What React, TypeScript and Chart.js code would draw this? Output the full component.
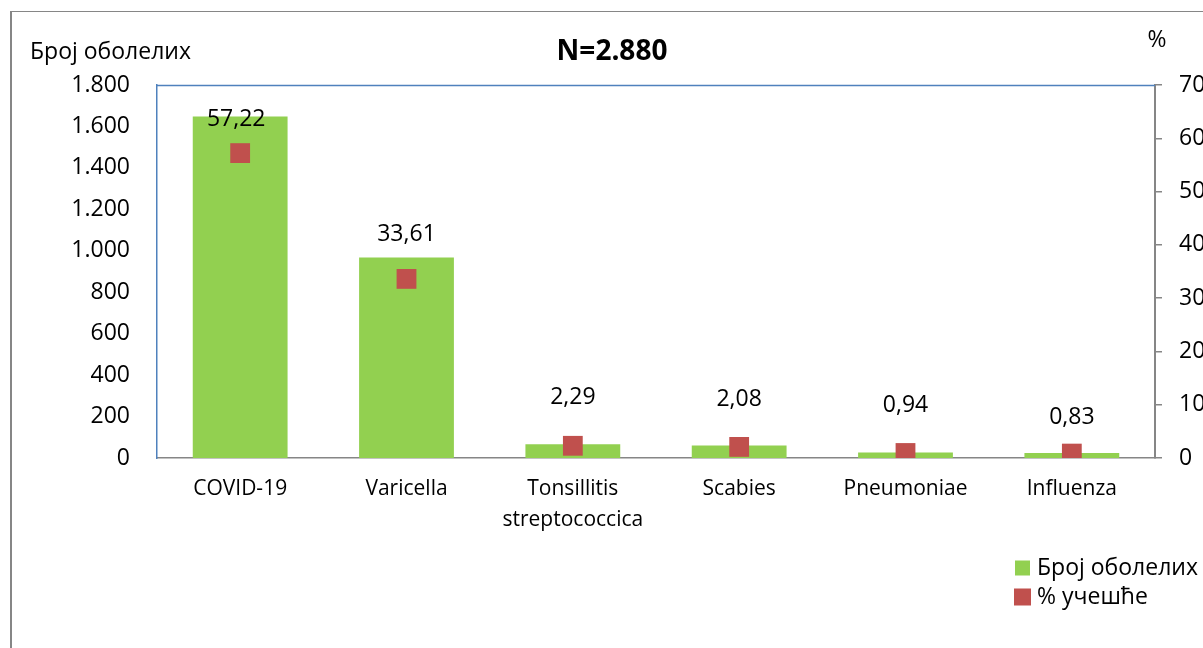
import React, { useEffect, useRef } from "react";
import { Chart, registerables } from "chart.js";

Chart.register(...registerables);

const categories: (string | string[])[] = [
  "COVID-19",
  "Varicella",
  ["Tonsillitis", "streptococcica"],
  "Scabies",
  "Pneumoniae",
  "Influenza",
];
const caseCounts = [1648, 968, 66, 60, 27, 24];
const percentShare = [57.22, 33.61, 2.29, 2.08, 0.94, 0.83];
const percentLabels = ["57,22", "33,61", "2,29", "2,08", "0,94", "0,83"];
const titleText = "N=2.880";
const leftAxisTitle = "Број оболелих";
const rightAxisTitle = "%";
const legendLabels = ["Број оболелих", "% учешће"];

// style: how far above each marker its label sits (px)
const labelLift = [34, 44, 48, 47, 48, 36];
const labelShift = [-4, 0, 0, 0, 0, 0];

const GREEN = "#92D050";
const RED = "#C0504D";
const BLUE = "#4F81BD";
const GRAY = "#868686";
const FONT = "'Open Sans', sans-serif";

const W = 1250;
const H = 648;
const PLOT = { left: 157, right: 1155, top: 85, bottom: 458 };

const fmtThousands = (v: number) =>
  String(v).replace(/\B(?=(\d{3})+(?!\d))/g, ".");

const decor = {
  id: "decor",
  beforeDraw(chart: any) {
    const ctx = chart.ctx;
    ctx.save();
    ctx.fillStyle = "#fff";
    ctx.fillRect(0, 0, chart.width, chart.height);
    ctx.strokeStyle = GRAY;
    ctx.lineWidth = 1;
    ctx.beginPath();
    ctx.moveTo(10, 11.5);
    ctx.lineTo(chart.width, 11.5);
    ctx.stroke();
    ctx.lineWidth = 2;
    ctx.beginPath();
    ctx.moveTo(11, 11);
    ctx.lineTo(11, chart.height);
    ctx.stroke();
    ctx.restore();
  },
  afterDraw(chart: any) {
    const ctx = chart.ctx;
    const ca = chart.chartArea;
    ctx.save();
    // top border of plot area
    ctx.strokeStyle = BLUE;
    ctx.lineWidth = 1.5;
    ctx.beginPath();
    ctx.moveTo(ca.left, ca.top + 0.5);
    ctx.lineTo(ca.right, ca.top + 0.5);
    ctx.stroke();

    ctx.fillStyle = "#000";
    ctx.textBaseline = "middle";
    // title
    ctx.font = `bold 28px ${FONT}`;
    ctx.textAlign = "center";
    ctx.fillText(titleText, 612, 52);
    // axis titles
    ctx.font = `23px ${FONT}`;
    ctx.textAlign = "left";
    ctx.fillText(leftAxisTitle, 30, 52);
    ctx.textAlign = "center";
    ctx.fillText(rightAxisTitle, 1157, 40);

    // data labels
    const meta = chart.getDatasetMeta(1);
    ctx.font = `23px ${FONT}`;
    ctx.textAlign = "center";
    meta.data.forEach((pt: any, i: number) => {
      ctx.fillText(percentLabels[i], pt.x + labelShift[i], pt.y - labelLift[i]);
    });

    // legend
    const colors = [GREEN, RED];
    ctx.textAlign = "left";
    legendLabels.forEach((txt, i) => {
      const cy = 568 + i * 29;
      ctx.fillStyle = colors[i];
      const s = i === 0 ? 15 : 17;
      ctx.fillRect(1015 - (i === 0 ? 0 : 1), cy - s / 2, s, s);
      ctx.fillStyle = "#000";
      ctx.fillText(txt, 1037, cy);
    });
    ctx.restore();
  },
};

export default function App() {
  const ref = useRef<HTMLCanvasElement | null>(null);

  useEffect(() => {
    if (!ref.current) return;
    const chart = new Chart(ref.current, {
      type: "bar",
      data: {
        labels: categories as any,
        datasets: [
          {
            type: "bar",
            label: legendLabels[0],
            data: caseCounts,
            backgroundColor: GREEN,
            borderWidth: 0,
            yAxisID: "y",
            categoryPercentage: 1,
            barPercentage: 0.57,
            order: 2,
          },
          {
            type: "line",
            label: legendLabels[1],
            data: percentShare,
            yAxisID: "y1",
            showLine: false,
            pointStyle: "rect",
            pointRadius: 14,
            pointHoverRadius: 14,
            backgroundColor: RED,
            borderColor: RED,
            borderWidth: 0,
            order: 1,
          } as any,
        ],
      },
      options: {
        animation: false,
        responsive: false,
        events: [],
        layout: { padding: { left: 0, right: 0, top: PLOT.top, bottom: 0 } },
        plugins: {
          legend: { display: false },
          title: { display: false },
          tooltip: { enabled: false },
        },
        scales: {
          x: {
            offset: true,
            grid: { display: false, drawTicks: false },
            border: { display: true, color: GRAY, width: 1.5 },
            ticks: {
              color: "#000",
              font: { family: FONT, size: 21, lineHeight: 1.45 },
              padding: 16,
              maxRotation: 0,
              autoSkip: false,
            },
            afterFit: (s: any) => {
              s.height = H - PLOT.bottom;
            },
          },
          y: {
            position: "left",
            min: 0,
            max: 1800,
            grid: { display: false, drawTicks: false },
            border: { display: true, color: BLUE, width: 1.5 },
            ticks: {
              stepSize: 200,
              color: "#000",
              font: { family: FONT, size: 23 },
              padding: 27,
              callback: (v: any) => fmtThousands(Number(v)),
            },
            afterFit: (s: any) => {
              s.width = PLOT.left;
            },
          },
          y1: {
            position: "right",
            min: 0,
            max: 70,
            grid: {
              drawOnChartArea: false,
              drawTicks: true,
              tickLength: 7,
              color: GRAY,
              lineWidth: 1.5,
            },
            border: { display: true, color: GRAY, width: 2 },
            ticks: {
              stepSize: 10,
              color: "#000",
              font: { family: FONT, size: 23 },
              padding: 17,
            },
            afterFit: (s: any) => {
              s.width = W - PLOT.right;
            },
          },
        },
      },
      plugins: [decor],
    });
    return () => chart.destroy();
  }, []);

  return (
    <div
      style={{
        position: "absolute",
        left: 0,
        top: 0,
        width: 1203,
        height: H,
        overflow: "hidden",
        background: "#fff",
      }}
    >
      <canvas ref={ref} width={W} height={H} style={{ width: W, height: H }} />
    </div>
  );
}
